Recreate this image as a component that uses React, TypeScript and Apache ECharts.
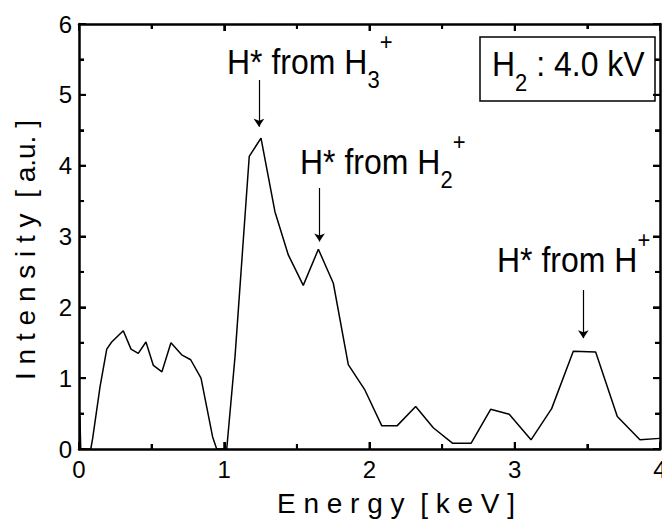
import React, { useEffect, useRef } from "react";
import * as echarts from "echarts";

const energy = [0.006, 0.012, 0.081, 0.094, 0.145, 0.191, 0.225, 0.305, 0.358, 0.408, 0.461, 0.512, 0.571, 0.633, 0.707, 0.769, 0.84, 0.92, 0.948, 1.017, 1.074, 1.172, 1.253, 1.349, 1.441, 1.544, 1.648, 1.751, 1.854, 1.969, 2.084, 2.191, 2.318, 2.439, 2.573, 2.699, 2.834, 2.962, 3.112, 3.254, 3.403, 3.557, 3.706, 3.862, 4.0];
const intensity = [0.47, 0, 0, 0.15, 0.88, 1.41, 1.51, 1.67, 1.41, 1.35, 1.51, 1.18, 1.09, 1.5, 1.33, 1.26, 1.0, 0.17, 0, 0, 1.3, 4.13, 4.39, 3.35, 2.74, 2.31, 2.82, 2.34, 1.19, 0.83, 0.33, 0.33, 0.6, 0.3, 0.08, 0.08, 0.56, 0.49, 0.13, 0.57, 1.38, 1.37, 0.46, 0.13, 0.15];

const xTicks = [0, 1, 2, 3, 4];
const yTicks = [0, 1, 2, 3, 4, 5, 6];
const xMinorTicks = [0.5, 1.5, 2.5, 3.5];
const yMinorTicks = [0.5, 1.5, 2.5, 3.5, 4.5, 5.5];

const arrowX = [1.239, 1.656, 3.472];
const arrowTop = [5.21, 3.685, 2.245];
const arrowTip = [4.55, 2.93, 1.565];

const labelMain = ["H* from H", "H* from H", "H* from H"];
const labelSub = ["3", "2", ""];
const labelSup = ["+", "+", "+"];
const boxText = ["H", "2", " : 4.0 kV"];

const FONT = "'Liberation Sans', Arial, Helvetica, sans-serif";

const GRID = { left: 79, right: 2, top: 24, bottom: 74 };
const W = 662;
const H = 523;

export default function App() {
  const ref = useRef<HTMLDivElement>(null);
  useEffect(() => {
    document.body.style.margin = "0";
    if (!ref.current) return;
    const chart = echarts.init(ref.current, undefined, { renderer: "svg" });
    const xMax = xTicks[xTicks.length - 1];
    const yMax = yTicks[yTicks.length - 1];

    const lineAxis = (position: string, max: number) => ({
      type: "value",
      position,
      min: 0,
      max,
      interval: 1,
      axisLine: { show: true, onZero: false, lineStyle: { color: "#000", width: 2.5 } },
      axisTick: { show: true, inside: true, length: 7, lineStyle: { color: "#000", width: 2 } },
      minorTick: { show: true, splitNumber: 2, length: 5, lineStyle: { color: "#000", width: 2 } },
      splitLine: { show: false },
      minorSplitLine: { show: false },
      axisLabel: { show: false },
    });

    const rich = {
      m: { fontSize: 32, fontFamily: FONT, lineHeight: 56, color: "#000" },
      sub: { fontSize: 22, fontFamily: FONT, lineHeight: 22, verticalAlign: "bottom", color: "#000" },
      sup: { fontSize: 22, fontFamily: FONT, lineHeight: 33, verticalAlign: "top", color: "#000" },
    };
    const labelPos = [
      [227, 29.6],
      [300, 129.6],
      [497, 227.6],
    ];
    const graphics: any[] = labelMain.map((t, i) => ({
      type: "text",
      x: labelPos[i][0],
      y: labelPos[i][1],
      scaleY: 1.12,
      silent: true,
      style: {
        text: `{m|${t}}` + (labelSub[i] ? `{sub|${labelSub[i]}}` : "") + `{sup|${labelSup[i]}}`,
        rich,
        fill: "#000",
        align: "left",
        verticalAlign: "top",
      },
    }));
    graphics.push({
      type: "rect",
      silent: true,
      shape: { x: 480, y: 37, width: 175, height: 64 },
      style: { fill: "#fff", stroke: "#000", lineWidth: 1.5 },
    });
    graphics.push({
      type: "text",
      x: 492,
      y: 32,
      scaleY: 1.12,
      silent: true,
      style: {
        text: `{m|${boxText[0]}}{sub|${boxText[1]}}{m|${boxText[2]}}`,
        rich,
        fill: "#000",
        align: "left",
        verticalAlign: "top",
      },
    });

    chart.setOption({
      animation: false,
      grid: { ...GRID, containLabel: false, outerBoundsMode: "none" },
      xAxis: [
        {
          ...lineAxis("bottom", xMax),
          name: "E n e r g y  [ k e V ]",
          nameLocation: "middle",
          nameGap: 40,
          nameTextStyle: { fontSize: 28, fontFamily: FONT, color: "#000", padding: [0, 0, 0, 53] },
          axisLabel: { show: true, fontSize: 24, fontFamily: FONT, color: "#000", margin: 8, showMaxLabel: true, showMinLabel: true },
        },
        lineAxis("top", xMax),
      ],
      yAxis: [
        {
          ...lineAxis("left", yMax),
          name: "I n t e n s i t y  [ a.u. ]",
          nameLocation: "middle",
          nameGap: 40,
          nameTextStyle: { fontSize: 28, fontFamily: FONT, color: "#000", padding: [0, 27, 0, 0] },
          axisLabel: { show: true, fontSize: 24, fontFamily: FONT, color: "#000", margin: 7 },
        },
        lineAxis("right", yMax),
      ],
      series: [
        {
          type: "line",
          xAxisIndex: 0,
          yAxisIndex: 0,
          data: energy.map((x, i) => [x, intensity[i]]),
          showSymbol: false,
          symbol: "none",
          lineStyle: { color: "#000", width: 1.5 },
          silent: true,
          markLine: {
            silent: true,
            symbol: ["none", "arrow"],
            symbolSize: 8,
            label: { show: false },
            lineStyle: { color: "#000", width: 1.2, type: "solid" },
            emphasis: { disabled: true },
            data: arrowX.map((x, i) => [
              { coord: [x, arrowTop[i]] },
              { coord: [x, arrowTip[i]] },
            ]),
          },
        },
      ],
    });

    // inward tick marks on all four sides, drawn as filled rects placed through the chart's scales
    const toPx = (x: number, y: number) => chart.convertToPixel({ gridIndex: 0 }, [x, y]) as number[];
    const tickFill = { fill: "#000" };
    const ticks: any[] = [];
    const addX = (v: number, len: number) => {
      const b = toPx(v, 0);
      const t = toPx(v, yMax);
      ticks.push({ type: "rect", z: 100, silent: true, shape: { x: b[0] - 1, y: b[1] - len, width: 2, height: len }, style: tickFill });
      ticks.push({ type: "rect", z: 100, silent: true, shape: { x: t[0] - 1, y: t[1], width: 2, height: len }, style: tickFill });
    };
    const addY = (v: number, len: number) => {
      const l = toPx(0, v);
      const r = toPx(xMax, v);
      ticks.push({ type: "rect", z: 100, silent: true, shape: { x: l[0], y: l[1] - 1, width: len, height: 2 }, style: tickFill });
      ticks.push({ type: "rect", z: 100, silent: true, shape: { x: r[0] - len, y: r[1] - 1, width: len, height: 2 }, style: tickFill });
    };
    xTicks.forEach((v) => addX(v, 7));
    xMinorTicks.forEach((v) => addX(v, 5));
    yTicks.forEach((v) => addY(v, 7));
    yMinorTicks.forEach((v) => addY(v, 5));

    chart.setOption({ graphic: [...graphics, ...ticks] });
    return () => chart.dispose();
  }, []);
  return <div ref={ref} style={{ width: W, height: H }} />;
}
